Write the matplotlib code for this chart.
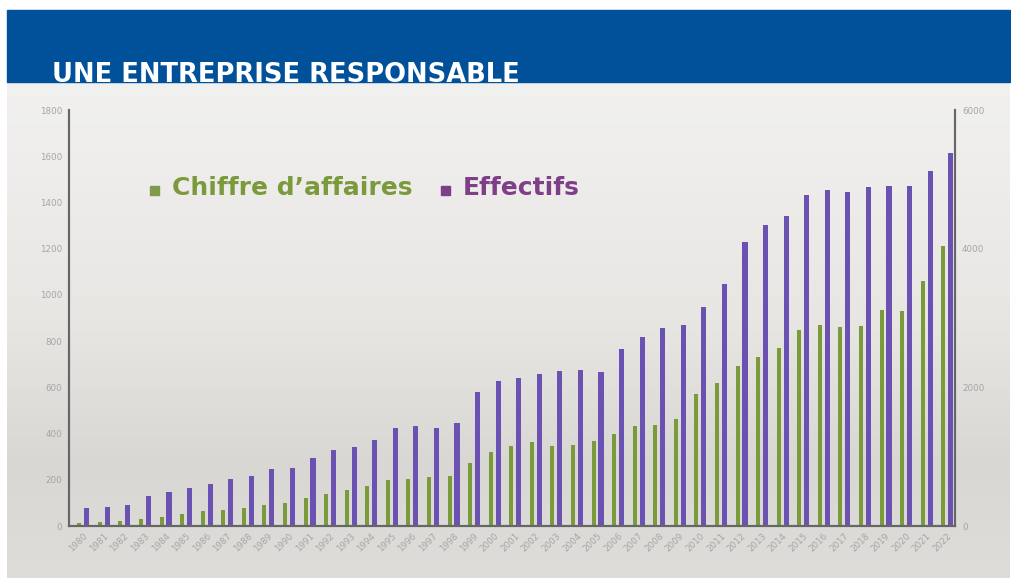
import numpy as np
import matplotlib
matplotlib.use("Agg")
import matplotlib.pyplot as plt
from matplotlib.patches import Rectangle
from matplotlib.colors import LinearSegmentedColormap

# données
years = [str(y) for y in range(1980, 2023)]
chiffre_affaires = [12, 16, 20, 32, 40, 52, 65, 69, 78, 89,
                    101, 121, 138, 154, 175, 199, 203, 212, 216, 274,
                    320, 344, 365, 348, 352, 369, 397, 434, 438, 463,
                    570, 619, 691, 733, 770, 848, 868, 860, 864, 933,
                    929, 1060, 1213]
effectifs = [255, 269, 298, 433, 490, 543, 611, 683, 721, 827,
             841, 981, 1101, 1144, 1236, 1418, 1438, 1418, 1490, 1928,
             2091, 2130, 2197, 2240, 2255, 2216, 2548, 2726, 2862, 2894,
             3154, 3495, 4096, 4342, 4476, 4779, 4846, 4817, 4885, 4900,
             4900, 5120, 5376]
left_ticks = [0, 200, 400, 600, 800, 1000, 1200, 1400, 1600, 1800]
right_ticks = [0, 2000, 4000, 6000]

W, H = 1012, 578
fig = plt.figure(figsize=(W / 100, H / 100), dpi=100)
fig.patch.set_facecolor("white")

# fond dégradé gris
bg = fig.add_axes([7 / W, 0, 1003 / W, 1 - 10 / H])
bg.set_axis_off()
cmap = LinearSegmentedColormap.from_list(
    "fond", [(0.0, "#dfddda"), (0.2, "#d9d7d3"), (0.45, "#e7e6e3"),
             (0.75, "#efeeec"), (1.0, "#f3f3f2")])
grad = np.linspace(0, 1, 256).reshape(-1, 1)
bg.imshow(grad, aspect="auto", cmap=cmap, origin="lower", extent=[0, 1, 0, 1])
bg.set_xlim(0, 1)
bg.set_ylim(0, 1)

# bandeau bleu + titre
fig.patches.append(Rectangle((7 / W, 1 - 82 / H), 1003 / W, 72 / H,
                             transform=fig.transFigure, color="#00509a", zorder=1))
fig.text(52 / W, 1 - 82 / H, "UNE ENTREPRISE RESPONSABLE", color="white",
         fontsize=18.5, fontweight="bold", family="DejaVu Sans",
         ha="left", va="baseline", zorder=3)

ax = fig.add_axes([69 / W, 1 - 526 / H, (955 - 69) / W, (526 - 110) / H])
ax.patch.set_alpha(0)
ax2 = ax.twinx()

x = np.arange(len(years))
green = "#7a9a3c"
purple = "#6b52b2"
ax.bar(x - 0.18, chiffre_affaires, width=0.2, color=green, zorder=2)
ax2.bar(x + 0.18, effectifs, width=0.25, color=purple, zorder=2)

ax.set_xlim(-0.68, 42.39)
ax.set_ylim(0, 1800)
ax2.set_ylim(0, 6000)
ax.set_yticks(left_ticks)
ax2.set_yticks(right_ticks)
ax.set_xticks(x)
ax.set_xticklabels(years, rotation=45, ha="right", rotation_mode="anchor")

for a in (ax, ax2):
    a.tick_params(length=0, labelsize=6.3, labelcolor="#a5a5a5", pad=5)
    a.spines["top"].set_visible(False)
    for s in ("left", "right", "bottom"):
        a.spines[s].set_color("#666666")
        a.spines[s].set_linewidth(1.5)
ax.tick_params(axis="x", pad=4)

# légende
fig.patches.append(Rectangle((150 / W, 1 - 195 / H), 9 / W, 9 / H,
                             transform=fig.transFigure, color="#7f9a4c", zorder=3))
fig.text(172 / W, 1 - 188 / H, "Chiffre d\u2019affaires", color="#7a9a3c",
         fontsize=18, fontweight="bold", ha="left", va="center")
fig.patches.append(Rectangle((441 / W, 1 - 195 / H), 9 / W, 9 / H,
                             transform=fig.transFigure, color="#7f3f88", zorder=3))
fig.text(463 / W, 1 - 188 / H, "Effectifs", color="#7f3f88",
         fontsize=18, fontweight="bold", ha="left", va="center")

fig.savefig("out.png", dpi=100)
